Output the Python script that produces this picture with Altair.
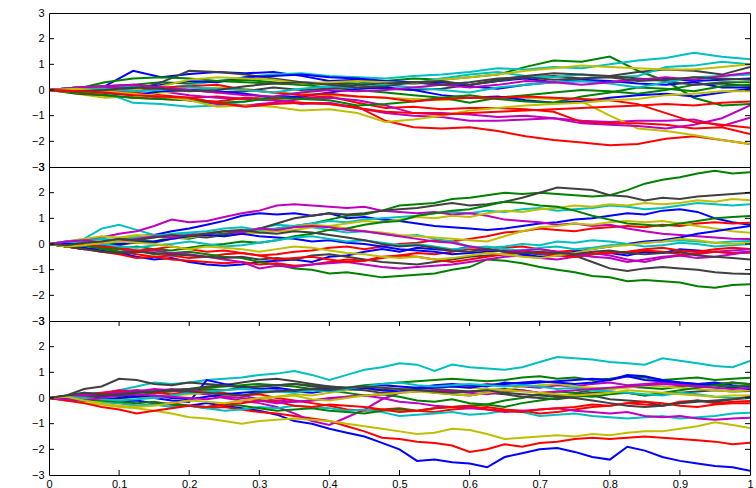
import altair as alt
import pandas as pd

FONT = "Liberation Sans"
COLOR_MAP = {"b": "#0000ff", "g": "#008000", "r": "#ff0000", "c": "#00bfbf",
             "m": "#bf00bf", "y": "#bfbf00", "k": "#404040"}

Y_TICKS = [-3, -2, -1, 0, 1, 2, 3]
Y_INNER_TICKS = [-2, -1, 0, 1, 2]
X_TICKS = [0, 0.1, 0.2, 0.3, 0.4, 0.5, 0.6, 0.7, 0.8, 0.9, 1]
X_INNER_TICKS = [0.1, 0.2, 0.3, 0.4, 0.5, 0.6, 0.7, 0.8, 0.9]

# ---------------- top panel (coarse walks) ----------------
top_colors = "bgrcmykbgrcmykbgrcmykr"
top_series = [
    [0, -0.1, 0.15, 0.75, 0.5, 0.62, 0.7, 0.65, 0.7, 0.55, 0.35, 0.4, 0.3, 0.25, 0.3, 0.2, 0.35, 0.45, 0.3, 0.35, 0.3, 0.4, 0.45, 0.35, 0.4, 0.45],
    [0, 0.1, 0.15, 0.2, 0.3, 0.25, 0.35, 0.3, 0.25, 0.2, 0.3, 0.25, 0.35, 0.45, 0.4, 0.5, 0.6, 0.9, 1.15, 1.1, 1.3, 0.75, 0.35, -0.3, -0.6, -0.55],
    [0, -0.05, -0.15, -0.1, -0.2, -0.3, -0.25, -0.35, -0.4, -0.5, -0.55, -0.65, -1.2, -1.45, -1.5, -1.45, -1.6, -1.8, -1.95, -2.05, -2.15, -2.1, -1.9, -1.8, -1.95, -2.1],
    [0, 0.1, 0.05, 0.15, 0.05, 0.2, 0.35, 0.5, 0.6, 0.65, 0.55, 0.5, 0.45, 0.55, 0.6, 0.7, 0.85, 0.8, 0.9, 0.85, 1.0, 1.15, 1.25, 1.45, 1.3, 1.2],
    [0, -0.1, 0.1, 0.05, -0.05, -0.2, -0.3, -0.35, -0.4, -0.55, -0.5, -0.7, -0.9, -1.0, -1.05, -1.2, -1.2, -1.15, -1.1, -1.2, -1.25, -1.2, -1.2, -1.15, -1.4, -1.08],
    [0, -0.15, -0.3, -0.25, -0.1, 0, 0.1, 0.05, -0.1, -0.15, -0.2, -0.25, -0.3, -0.35, -0.4, -0.3, -0.35, -0.3, -0.35, -0.45, -1.0, -1.5, -1.6, -1.75, -1.95, -2.1],
    [0, -0.15, -0.2, -0.05, 0.3, 0.75, 0.7, 0.6, 0.45, 0.3, 0.25, 0.2, 0.05, 0.0, 0.05, 0.2, 0.35, 0.5, 0.55, 0.45, 0.55, 0.7, 0.8, 0.75, 0.6, 0.9],
    [0, -0.05, 0.0, 0.05, 0.2, 0.35, 0.3, 0.5, 0.55, 0.6, 0.5, 0.45, 0.35, 0.3, 0.2, 0.15, 0.05, 0.2, 0.3, 0.4, 0.35, 0.25, 0.2, 0.3, 0.1, 0.1],
    [0, 0.05, 0.3, 0.45, 0.5, 0.45, 0.35, 0.4, 0.3, 0.2, 0.1, 0.0, -0.1, -0.2, -0.3, -0.5, -0.3, -0.2, -0.1, 0.0, -0.05, -0.15, 0.0, 0.2, 0.3, 0.3],
    [0, -0.1, -0.2, -0.3, -0.35, -0.4, -0.45, -0.3, -0.35, -0.3, -0.25, -0.5, -0.7, -0.65, -0.75, -0.7, -0.7, -0.75, -0.85, -1.25, -1.3, -1.3, -1.35, -1.5, -1.45, -1.72],
    [0, 0.05, -0.1, -0.5, -0.55, -0.65, -0.6, -0.45, -0.3, -0.1, 0.1, 0.2, 0.3, 0.25, 0.45, 0.6, 0.7, 0.55, 0.5, 0.6, 0.5, 0.55, 0.9, 0.95, 1.1, 1.0],
    [0, 0.1, 0.05, -0.15, -0.3, -0.4, -0.55, -0.6, -0.5, -0.35, -0.3, -0.4, -0.6, -0.9, -0.9, -0.95, -1.05, -1.0, -1.1, -1.3, -1.35, -1.4, -1.5, -1.35, -1.1, -0.6],
    [0, -0.1, -0.1, 0.0, 0.15, 0.4, 0.5, 0.45, 0.4, 0.25, 0.3, 0.35, 0.3, 0.25, 0.4, 0.5, 0.6, 0.75, 0.85, 0.95, 0.9, 0.85, 0.8, 0.8, 0.9, 1.0],
    [0, 0.1, 0.15, 0.2, 0.1, 0.0, -0.1, -0.05, 0.1, 0.0, 0.05, 0.2, 0.25, 0.3, 0.35, 0.2, 0.4, 0.55, 0.65, 0.6, 0.55, 0.45, 0.35, 0.2, 0.25, 0.15],
    [0, 0.05, -0.1, -0.2, -0.05, 0.0, -0.05, -0.15, -0.3, -0.25, -0.1, 0.05, 0.1, 0.0, -0.2, -0.3, -0.25, -0.4, -0.5, -0.45, -0.3, -0.2, -0.15, -0.25, -0.1, 0.05],
    [0, -0.1, -0.2, -0.3, -0.35, -0.4, -0.5, -0.45, -0.3, -0.35, -0.4, -0.6, -0.55, -0.45, -0.3, -0.2, -0.35, -0.45, -0.5, -0.25, -0.1, 0.1, 0.05, -0.05, 0.15, 0.2],
    [0, 0.05, 0.0, -0.1, 0.1, 0.15, 0.2, 0.0, -0.1, -0.2, -0.15, -0.25, -0.3, -0.45, -0.35, -0.3, -0.3, -0.25, -0.3, -0.35, -0.4, -0.55, -0.9, -1.25, -1.35, -1.47],
    [0, 0.1, 0.05, -0.05, 0.0, 0.1, 0.05, 0.0, -0.1, 0.05, 0.15, 0.1, 0.2, 0.1, 0.0, -0.1, 0.1, 0.2, 0.3, 0.35, 0.25, 0.1, 0.3, 0.5, 0.55, 0.6],
    [0, 0.1, 0.15, 0.2, 0.1, 0.0, -0.1, -0.2, -0.25, -0.1, 0.0, -0.05, 0.0, 0.1, 0.2, 0.1, 0.2, 0.35, 0.3, 0.2, 0.3, 0.4, 0.5, 0.4, 0.55, 0.67],
    [0, 0.05, -0.05, -0.15, -0.25, -0.4, -0.65, -0.6, -0.65, -0.8, -0.75, -0.9, -1.25, -1.15, -1.0, -0.8, -0.7, -0.6, -0.55, -0.5, -0.4, -0.35, -0.2, -0.15, -0.05, -0.05],
    [0, -0.05, 0.0, 0.1, 0.05, -0.05, 0.0, 0.15, 0.25, 0.3, 0.2, 0.1, 0.15, 0.3, 0.2, 0.3, 0.45, 0.5, 0.4, 0.45, 0.5, 0.35, 0.4, 0.5, 0.45, 0.4],
    [0, -0.05, -0.1, -0.2, -0.25, -0.3, -0.5, -0.65, -0.55, -0.5, -0.55, -0.7, -0.85, -0.9, -0.95, -0.9, -0.85, -0.8, -0.75, -0.7, -0.65, -0.6, -0.55, -0.6, -0.5, -0.45],
]

# ---------------- middle panel ----------------
mid_colors = "bgrcmykbgrcmykbgrcmyk"
mid_series = [
    [0, 0.1, 0.15, 0.05, 0.2, 0.3, 0.35, 0.5, 0.6, 0.75, 0.9, 1.1, 1.2, 1.15, 1.2, 1.1, 1.2, 1.0, 1.05, 0.95, 0.9, 0.8, 0.7, 0.65, 0.6, 0.55, 0.6, 0.7, 0.8, 0.85, 0.95, 1.0, 1.1, 1.2, 1.15, 1.3, 1.35, 1.25, 1.0, 0.85, 0.75],
    [0, -0.05, 0.05, 0.1, 0.0, 0.15, 0.1, 0.25, 0.2, 0.35, 0.4, 0.5, 0.45, 0.6, 0.7, 0.8, 0.95, 1.1, 1.15, 1.3, 1.5, 1.55, 1.6, 1.75, 1.8, 1.9, 2.0, 1.95, 2.0, 1.95, 1.9, 1.85, 1.9, 2.1, 2.35, 2.5, 2.6, 2.75, 2.85, 2.75, 2.8],
    [0, -0.1, -0.2, -0.15, -0.3, -0.4, -0.5, -0.45, -0.55, -0.5, -0.4, -0.35, -0.45, -0.4, -0.3, -0.25, -0.15, -0.1, -0.2, -0.1, 0.0, 0.05, 0.15, 0.1, 0.2, 0.3, 0.45, 0.5, 0.6, 0.55, 0.5, 0.6, 0.65, 0.7, 0.65, 0.75, 0.7, 0.8, 0.85, 0.8, 0.83],
    [0, 0.1, 0.2, 0.6, 0.75, 0.55, 0.35, 0.3, 0.4, 0.35, 0.3, 0.5, 0.6, 0.75, 0.7, 0.8, 0.9, 0.85, 0.95, 1.0, 1.05, 1.1, 1.2, 1.25, 1.2, 1.3, 1.25, 1.35, 1.4, 1.3, 1.35, 1.4, 1.5, 1.45, 1.35, 1.4, 1.5, 1.6, 1.55, 1.5, 1.55],
    [0, 0.05, 0.15, 0.25, 0.4, 0.5, 0.7, 0.95, 0.85, 0.9, 1.05, 1.2, 1.3, 1.5, 1.55, 1.5, 1.45, 1.4, 1.45, 1.3, 1.25, 1.2, 1.25, 1.15, 1.2, 1.1, 0.95, 0.9, 0.85, 0.75, 0.8, 0.7, 0.75, 0.6, 0.5, 0.4, 0.35, 0.3, 0.25, 0.2, 0.19],
    [0, -0.1, -0.05, 0.1, 0.2, 0.3, 0.25, 0.35, 0.3, 0.45, 0.5, 0.55, 0.5, 0.6, 0.7, 0.75, 0.7, 0.8, 0.9, 0.85, 0.95, 1.05, 1.0, 1.1, 1.05, 1.2, 1.3, 1.25, 1.35, 1.4, 1.5, 1.45, 1.55, 1.5, 1.6, 1.55, 1.6, 1.7, 1.65, 1.75, 1.7],
    [0, -0.1, -0.2, -0.15, -0.05, 0.1, 0.05, 0.2, 0.3, 0.25, 0.35, 0.5, 0.6, 0.8, 1.0, 1.1, 1.2, 1.15, 1.2, 1.3, 1.35, 1.4, 1.5, 1.6, 1.5, 1.55, 1.65, 1.8, 2.0, 2.2, 2.15, 2.1, 1.9, 1.85, 1.7, 1.8, 1.75, 1.85, 1.9, 1.95, 2.0],
    [0, -0.1, -0.15, -0.25, -0.35, -0.5, -0.6, -0.55, -0.7, -0.8, -0.85, -0.8, -0.7, -0.65, -0.6, -0.7, -0.5, -0.45, -0.3, -0.2, -0.3, -0.15, -0.2, -0.25, -0.1, -0.2, -0.3, -0.25, -0.4, -0.35, -0.5, -0.4, -0.35, -0.45, -0.3, -0.35, -0.2, -0.25, -0.3, -0.35, -0.3],
    [0, -0.1, -0.05, -0.2, -0.3, -0.25, -0.4, -0.35, -0.3, -0.4, -0.5, -0.55, -0.7, -0.8, -0.95, -1.0, -1.15, -1.1, -1.2, -1.3, -1.25, -1.2, -1.15, -1.0, -0.9, -0.6, -0.65, -0.75, -0.9, -1.0, -1.1, -1.25, -1.3, -1.45, -1.4, -1.45, -1.5, -1.65, -1.7, -1.6, -1.57],
    [0, -0.1, -0.2, -0.3, -0.4, -0.55, -0.5, -0.6, -0.65, -0.7, -0.75, -0.7, -0.8, -0.75, -0.85, -0.8, -0.7, -0.6, -0.65, -0.5, -0.45, -0.35, -0.4, -0.3, -0.2, -0.25, -0.15, -0.1, -0.2, -0.3, -0.25, -0.4, -0.35, -0.3, -0.2, -0.15, -0.25, -0.3, -0.2, -0.15, -0.19],
    [0, 0.05, 0.1, 0.2, 0.15, 0.25, 0.3, 0.4, 0.45, 0.5, 0.6, 0.65, 0.55, 0.6, 0.7, 0.65, 0.55, 0.45, 0.5, 0.4, 0.3, 0.35, 0.2, 0.1, -0.1, -0.15, -0.1, 0.0, -0.05, 0.1, 0.05, 0.15, 0.1, 0.0, 0.05, 0.1, 0.15, 0.1, 0.05, 0.1, 0.12],
    [0, -0.05, 0.0, -0.1, -0.2, -0.3, -0.25, -0.35, -0.4, -0.5, -0.6, -0.7, -0.95, -0.85, -0.9, -0.8, -0.75, -0.7, -0.8, -0.9, -0.95, -0.9, -0.85, -0.8, -0.7, -0.6, -0.5, -0.45, -0.55, -0.6, -0.5, -0.35, -0.45, -0.6, -0.7, -0.55, -0.45, -0.4, -0.3, -0.25, -0.2],
    [0, 0.1, 0.2, 0.3, 0.25, 0.35, 0.3, 0.2, 0.25, 0.35, 0.3, 0.4, 0.45, 0.5, 0.55, 0.65, 0.7, 0.6, 0.5, 0.45, 0.35, 0.3, 0.25, 0.2, 0.15, 0.1, 0.3, 0.5, 0.65, 0.7, 0.8, 0.75, 0.85, 0.9, 0.85, 0.9, 0.8, 0.7, 0.6, 0.5, 0.44],
    [0, -0.1, -0.2, -0.3, -0.35, -0.3, -0.35, -0.4, -0.45, -0.5, -0.55, -0.5, -0.6, -0.55, -0.6, -0.45, -0.4, -0.5, -0.6, -0.7, -0.75, -0.8, -0.7, -0.6, -0.5, -0.45, -0.4, -0.35, -0.4, -0.35, -0.45, -0.7, -0.95, -1.05, -0.95, -0.9, -0.95, -1.0, -1.1, -1.15, -1.17],
    [0, 0.05, -0.05, -0.1, 0.0, 0.05, 0.1, 0.2, 0.3, 0.35, 0.3, 0.4, 0.3, 0.25, 0.2, 0.1, 0.15, 0.05, 0.0, -0.1, -0.2, -0.25, -0.3, -0.4, -0.35, -0.3, -0.25, -0.4, -0.5, -0.45, -0.3, -0.2, -0.1, 0.0, 0.1, 0.15, 0.25, 0.4, 0.5, 0.6, 0.7],
    [0, -0.1, -0.05, -0.15, -0.2, -0.1, -0.2, -0.25, -0.15, -0.05, 0.0, 0.1, 0.05, 0.15, 0.3, 0.4, 0.55, 0.6, 0.75, 0.85, 0.9, 1.1, 1.2, 1.3, 1.35, 1.5, 1.65, 1.6, 1.5, 1.45, 1.3, 1.1, 0.95, 0.8, 0.75, 0.7, 0.8, 0.9, 1.0, 1.05, 1.09],
    [0, -0.05, 0.0, -0.1, -0.15, -0.25, -0.2, -0.1, -0.2, -0.3, -0.25, -0.35, -0.45, -0.6, -0.55, -0.5, -0.6, -0.7, -0.65, -0.55, -0.45, -0.5, -0.6, -0.7, -0.6, -0.5, -0.4, -0.3, -0.35, -0.45, -0.5, -0.4, -0.3, -0.35, -0.25, -0.3, -0.4, -0.35, -0.3, -0.35, -0.34],
    [0, 0.1, 0.05, 0.0, -0.1, -0.15, -0.05, 0.0, 0.1, 0.0, -0.1, -0.05, 0.05, 0.15, 0.25, 0.3, 0.2, 0.1, 0.15, 0.05, -0.05, 0.0, -0.1, -0.2, -0.15, -0.1, -0.2, -0.25, -0.15, -0.1, -0.2, -0.15, -0.05, 0.0, -0.1, -0.05, 0.05, 0.0, -0.1, -0.05, 0.0],
    [0, 0.1, 0.15, 0.05, 0.1, 0.2, 0.3, 0.25, 0.35, 0.4, 0.5, 0.45, 0.6, 0.55, 0.65, 0.7, 0.65, 0.55, 0.5, 0.4, 0.3, 0.2, 0.1, 0.05, -0.1, -0.2, -0.3, -0.25, -0.2, -0.3, -0.4, -0.5, -0.55, -0.7, -0.6, -0.5, -0.45, -0.55, -0.5, -0.4, -0.3],
    [0, -0.1, -0.05, 0.05, 0.1, 0.05, 0.0, -0.1, -0.2, -0.1, -0.15, -0.2, -0.3, -0.2, -0.1, -0.15, -0.25, -0.35, -0.4, -0.5, -0.55, -0.5, -0.6, -0.55, -0.45, -0.35, -0.4, -0.5, -0.55, -0.45, -0.35, -0.2, -0.1, -0.05, 0.05, 0.1, 0.2, 0.15, 0.05, 0.0, 0.05],
    [0, -0.05, 0.05, 0.1, 0.2, 0.15, 0.25, 0.35, 0.3, 0.4, 0.5, 0.55, 0.45, 0.4, 0.5, 0.45, 0.35, 0.25, 0.15, 0.0, -0.1, -0.05, -0.15, -0.25, -0.3, -0.2, -0.3, -0.35, -0.3, -0.35, -0.4, -0.3, -0.25, -0.35, -0.4, -0.35, -0.3, -0.45, -0.5, -0.55, -0.6],
]

# ---------------- bottom panel ----------------
bot_colors = "bgrcmykbgrcmykbgrcmyk"
bot_series = [
    [0, -0.05, 0.0, -0.1, -0.15, -0.1, -0.2, -0.25, -0.3, -0.2, -0.3, -0.4, -0.5, -0.65, -0.9, -1.0, -1.2, -1.35, -1.5, -1.75, -2.0, -2.45, -2.4, -2.5, -2.55, -2.7, -2.3, -2.15, -2.0, -1.95, -2.1, -2.3, -2.4, -1.9, -2.05, -2.3, -2.45, -2.55, -2.65, -2.7, -2.84],
    [0, 0.05, 0.1, 0.05, 0.15, 0.1, 0.2, 0.25, 0.3, 0.35, 0.3, 0.4, 0.45, 0.5, 0.55, 0.5, 0.45, 0.4, 0.5, 0.55, 0.6, 0.65, 0.7, 0.75, 0.7, 0.65, 0.7, 0.8, 0.85, 0.75, 0.8, 0.7, 0.75, 0.85, 0.8, 0.7, 0.75, 0.8, 0.7, 0.75, 0.79],
    [0, -0.1, -0.05, -0.15, -0.2, -0.3, -0.25, -0.2, -0.3, -0.4, -0.35, -0.45, -0.55, -0.6, -0.7, -0.8, -0.9, -1.1, -1.3, -1.55, -1.6, -1.7, -1.75, -1.85, -2.1, -2.0, -1.8, -1.9, -1.75, -1.7, -1.6, -1.55, -1.6, -1.55, -1.5, -1.55, -1.6, -1.65, -1.7, -1.8, -1.74],
    [0, 0.1, 0.2, 0.15, 0.3, 0.45, 0.6, 0.55, 0.6, 0.7, 0.75, 0.8, 0.9, 0.95, 1.05, 0.9, 0.7, 0.9, 1.1, 1.2, 1.35, 1.3, 1.05, 1.3, 1.2, 1.15, 1.1, 1.2, 1.4, 1.6, 1.55, 1.5, 1.4, 1.35, 1.3, 1.55, 1.45, 1.35, 1.25, 1.2, 1.44],
    [0, 0.05, 0.15, 0.2, 0.3, 0.25, 0.35, 0.3, 0.2, 0.15, 0.0, -0.1, -0.2, -0.35, -0.6, -0.9, -1.05, -0.75, -0.45, -0.05, 0.2, 0.4, 0.45, 0.5, 0.45, 0.55, 0.5, 0.45, 0.4, 0.5, 0.45, 0.55, 0.6, 0.5, 0.55, 0.6, 0.55, 0.5, 0.55, 0.6, 0.54],
    [0, -0.1, -0.2, -0.25, -0.35, -0.4, -0.5, -0.6, -0.75, -0.8, -0.9, -1.0, -0.9, -0.85, -0.8, -0.85, -0.9, -1.0, -1.1, -1.2, -1.3, -1.4, -1.35, -1.2, -1.25, -1.4, -1.6, -1.55, -1.5, -1.45, -1.5, -1.4, -1.45, -1.35, -1.3, -1.3, -1.2, -1.1, -0.95, -1.05, -1.17],
    [0, 0.1, 0.35, 0.45, 0.75, 0.7, 0.55, 0.5, 0.6, 0.55, 0.5, 0.6, 0.7, 0.75, 0.65, 0.55, 0.45, 0.4, 0.35, 0.3, 0.35, 0.4, 0.35, 0.3, 0.25, 0.3, 0.35, 0.3, 0.2, 0.1, 0.15, 0.2, 0.25, 0.2, 0.1, 0.15, 0.2, 0.25, 0.3, 0.25, 0.27],
    [0, -0.05, -0.1, 0.05, 0.1, 0.05, 0.0, -0.1, -0.15, 0.7, 0.55, 0.45, 0.35, 0.4, 0.3, 0.35, 0.4, 0.35, 0.45, 0.5, 0.45, 0.4, 0.5, 0.55, 0.5, 0.45, 0.6, 0.55, 0.6, 0.65, 0.7, 0.75, 0.7, 0.85, 0.7, 0.65, 0.6, 0.55, 0.6, 0.5, 0.45],
    [0, 0.05, 0.0, 0.1, 0.2, 0.25, 0.2, 0.3, 0.35, 0.4, 0.45, 0.5, 0.55, 0.5, 0.45, 0.35, 0.3, 0.2, 0.1, 0.15, 0.05, -0.1, -0.15, -0.05, -0.2, -0.25, -0.1, 0.0, 0.15, 0.25, 0.2, 0.3, 0.35, 0.45, 0.4, 0.35, 0.45, 0.55, 0.5, 0.6, 0.55],
    [0, 0.05, 0.1, 0.2, 0.25, 0.3, 0.2, 0.15, 0.25, 0.3, 0.2, 0.1, 0.15, 0.0, -0.1, -0.2, -0.3, -0.45, -0.5, -0.45, -0.4, -0.5, -0.55, -0.45, -0.4, -0.35, -0.45, -0.5, -0.6, -0.55, -0.45, -0.35, -0.3, -0.2, -0.25, -0.3, -0.15, -0.1, -0.2, -0.15, -0.12],
    [0, -0.05, -0.1, -0.15, -0.2, -0.3, -0.25, -0.35, -0.3, -0.4, -0.5, -0.45, -0.35, -0.4, -0.3, -0.35, -0.4, -0.5, -0.45, -0.55, -0.7, -0.65, -0.6, -0.55, -0.65, -0.6, -0.5, -0.55, -0.7, -0.65, -0.6, -0.7, -0.75, -0.8, -0.75, -0.7, -0.8, -0.75, -0.7, -0.6, -0.57],
    [0, 0.05, 0.1, 0.15, 0.2, 0.3, 0.25, 0.35, 0.3, 0.2, 0.15, 0.1, -0.05, -0.1, -0.15, -0.1, 0.0, 0.05, 0.1, 0.0, -0.15, -0.2, -0.3, -0.35, -0.4, -0.45, -0.55, -0.5, -0.45, -0.4, -0.5, -0.55, -0.6, -0.55, -0.7, -0.75, -0.7, -0.8, -0.85, -0.8, -0.77],
    [0, -0.05, -0.15, -0.1, -0.05, 0.05, 0.0, 0.1, 0.15, 0.2, 0.1, 0.0, -0.1, 0.05, 0.15, 0.1, 0.2, 0.3, 0.35, 0.4, 0.35, 0.3, 0.4, 0.45, 0.4, 0.35, 0.3, 0.45, 0.5, 0.55, 0.45, 0.4, 0.35, 0.4, 0.5, 0.45, 0.4, 0.35, 0.3, 0.25, 0.3],
    [0, -0.05, 0.0, 0.1, 0.15, 0.2, 0.25, 0.3, 0.35, 0.45, 0.5, 0.4, 0.45, 0.5, 0.55, 0.45, 0.4, 0.35, 0.3, 0.2, 0.25, 0.3, 0.2, 0.15, 0.1, 0.2, 0.15, 0.05, 0.0, -0.05, 0.05, 0.1, -0.05, -0.1, -0.15, -0.3, -0.2, -0.1, -0.15, -0.05, 0.0],
    [0, -0.05, -0.1, -0.05, 0.0, 0.05, 0.1, 0.0, -0.05, 0.05, 0.15, 0.2, 0.25, 0.3, 0.25, 0.2, 0.3, 0.35, 0.4, 0.3, 0.25, 0.35, 0.4, 0.45, 0.4, 0.5, 0.55, 0.6, 0.65, 0.6, 0.55, 0.6, 0.7, 0.9, 0.85, 0.7, 0.6, 0.55, 0.5, 0.4, 0.35],
    [0, 0.0, -0.05, -0.1, -0.15, -0.2, -0.15, -0.25, -0.3, -0.35, -0.25, -0.3, -0.4, -0.5, -0.45, -0.4, -0.5, -0.55, -0.6, -0.5, -0.45, -0.5, -0.4, -0.35, -0.3, -0.25, -0.35, -0.2, -0.1, 0.0, 0.1, 0.05, 0.15, 0.2, 0.1, 0.2, 0.3, 0.4, 0.5, 0.45, 0.5],
    [0, -0.1, -0.2, -0.35, -0.45, -0.6, -0.5, -0.4, -0.3, -0.35, -0.25, -0.2, -0.1, -0.15, -0.3, -0.35, -0.25, -0.3, -0.35, -0.45, -0.55, -0.5, -0.4, -0.35, -0.3, -0.45, -0.5, -0.55, -0.45, -0.4, -0.35, -0.25, -0.3, -0.2, -0.15, -0.2, -0.3, -0.35, -0.25, -0.2, -0.2],
    [0, 0.05, 0.0, -0.05, -0.1, -0.05, 0.0, 0.1, 0.2, 0.25, 0.3, 0.35, 0.3, 0.25, 0.2, 0.3, 0.25, 0.35, 0.45, 0.55, 0.6, 0.5, 0.45, 0.5, 0.55, 0.5, 0.45, 0.5, 0.45, 0.35, 0.4, 0.3, 0.25, 0.2, 0.15, 0.1, 0.2, 0.15, 0.05, 0.0, 0.0],
    [0, -0.05, -0.1, 0.0, 0.1, 0.15, 0.1, 0.05, 0.0, -0.05, 0.05, 0.0, -0.1, -0.2, -0.15, -0.1, -0.05, 0.05, 0.1, 0.15, 0.2, 0.25, 0.3, 0.25, 0.2, 0.15, 0.25, 0.3, 0.2, 0.25, 0.3, 0.35, 0.4, 0.45, 0.5, 0.55, 0.5, 0.45, 0.4, 0.35, 0.4],
    [0, 0.05, -0.1, -0.2, -0.3, -0.35, -0.3, -0.2, -0.1, -0.15, -0.2, -0.1, 0.0, 0.05, 0.1, -0.05, -0.1, 0.0, 0.1, 0.15, 0.2, 0.25, 0.2, 0.15, 0.1, 0.2, 0.3, 0.25, 0.2, 0.15, 0.1, 0.15, 0.2, 0.3, 0.25, 0.2, 0.15, 0.1, 0.05, 0.1, 0.1],
    [0, 0.1, 0.2, 0.15, 0.1, 0.2, 0.25, 0.3, 0.25, 0.2, 0.15, 0.1, 0.2, 0.25, 0.3, 0.35, 0.3, 0.4, 0.45, 0.4, 0.35, 0.3, 0.25, 0.2, 0.25, 0.3, 0.2, 0.15, 0.1, 0.05, 0.0, -0.1, -0.2, -0.3, -0.35, -0.3, -0.2, -0.15, -0.1, -0.05, 0.05],
]

W, H = 701, 154


def frame(series, colors):
    rows = []
    for k, vals in enumerate(series):
        n = len(vals)
        for i, v in enumerate(vals):
            rows.append({"s": k, "col": colors[k], "x": i / (n - 1), "y": v})
    return pd.DataFrame(rows)


def panel(series, colors, bottom):
    df = frame(series, colors)
    xsc = alt.Scale(domain=[0, 1], nice=False, zero=False)
    ysc = alt.Scale(domain=[-3, 3], nice=False, zero=False)
    if bottom:
        x_axis = alt.Axis(values=X_TICKS, format="~g", labelFlush=False, ticks=False,
                          domain=False, grid=False, labelPadding=3, labelFont=FONT,
                          labelFontSize=11, labelColor="black", title=None)
    else:
        x_axis = None
    y_axis = alt.Axis(values=Y_TICKS, ticks=False, domain=False, grid=False,
                      labelPadding=5, labelFont=FONT, labelFontSize=11,
                      labelColor="black", title=None)
    lines = alt.Chart(df).mark_line(strokeWidth=2, clip=True).encode(
        x=alt.X("x:Q", scale=xsc, axis=x_axis),
        y=alt.Y("y:Q", scale=ysc, axis=y_axis),
        color=alt.Color("col:N", scale=alt.Scale(domain=list(COLOR_MAP.keys()),
                                                 range=list(COLOR_MAP.values())),
                        legend=None),
        detail="s:N",
    )
    ydf = pd.DataFrame({"y": Y_INNER_TICKS})
    lt = alt.Chart(ydf).mark_rule(color="black", strokeWidth=1).encode(
        y=alt.Y("y:Q", scale=ysc, axis=y_axis), x=alt.value(0), x2=alt.value(5))
    rt = alt.Chart(ydf).mark_rule(color="black", strokeWidth=1).encode(
        y=alt.Y("y:Q", scale=ysc, axis=y_axis), x=alt.value(W - 5), x2=alt.value(W))
    layers = [lines, lt, rt]
    if bottom:
        xdf = pd.DataFrame({"x": X_INNER_TICKS})
        tt = alt.Chart(xdf).mark_rule(color="black", strokeWidth=1).encode(
            x=alt.X("x:Q", scale=xsc, axis=x_axis), y=alt.value(0), y2=alt.value(5))
        bt = alt.Chart(xdf).mark_rule(color="black", strokeWidth=1).encode(
            x=alt.X("x:Q", scale=xsc, axis=x_axis), y=alt.value(H - 5), y2=alt.value(H))
        layers += [tt, bt]
    return alt.layer(*layers).properties(width=W, height=H)


top = panel(top_series, top_colors, False)
mid = panel(mid_series, mid_colors, False)
bot = panel(bot_series, bot_colors, True)

chart = (
    alt.vconcat(top, mid, bot, spacing=0, bounds="flush")
    .properties(padding={"left": 0, "top": 6, "right": 0, "bottom": 0}, background="white")
    .configure_view(stroke="black", strokeWidth=1)
    .configure_axisY(minExtent=48, maxExtent=48)
    .configure_concat(spacing=0)
)

chart.save("out.html", embed_options={"renderer": "svg", "actions": False})
